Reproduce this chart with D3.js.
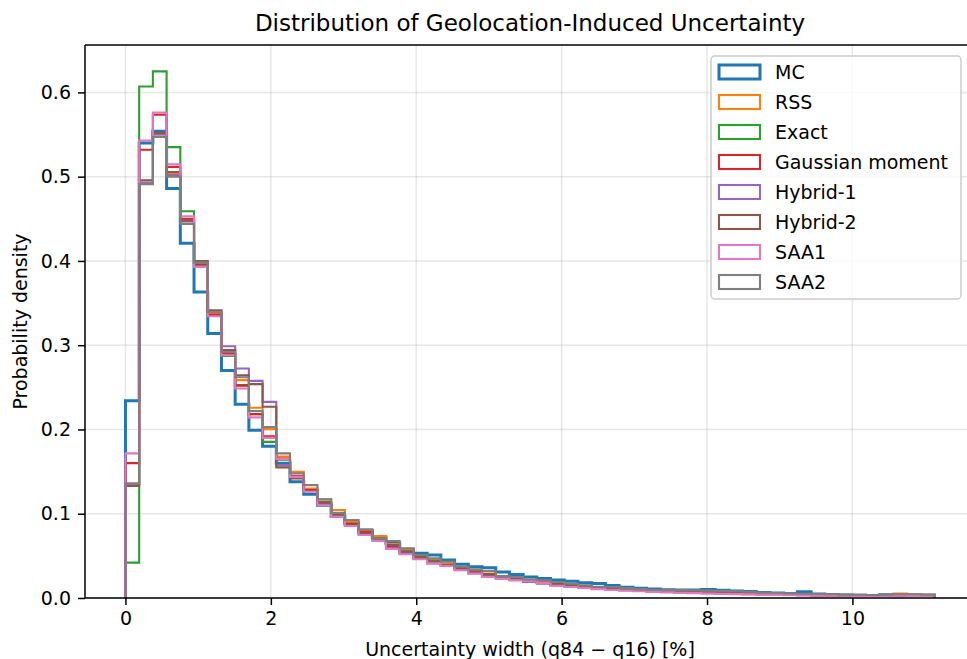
<!DOCTYPE html>
<html>
<head>
<meta charset="utf-8">
<script src="https://cdn.jsdelivr.net/npm/d3@7"></script>
<style>
  html, body { margin: 0; padding: 0; background: #fff; overflow: hidden; }
  svg { display: block; font-family: "DejaVu Sans", sans-serif; }
</style>
</head>
<body>
<svg id="chart" width="967" height="659"></svg>
<script>
// Histogram bins: 59 equal-width bins over [0, 11.13]
const binStart = 0;
const binEnd = 11.13;
const binCount = 59;

const seriesNames = ["MC", "RSS", "Exact", "Gaussian moment", "Hybrid-1", "Hybrid-2", "SAA1", "SAA2"];
const seriesColors = ["#1f77b4", "#ff7f0e", "#2ca02c", "#d62728", "#9467bd", "#8c564b", "#e377c2", "#7f7f7f"];

// Probability density per bin, one array per method
const mcDensity = [0.234, 0.540, 0.554, 0.486, 0.421, 0.363, 0.314, 0.270, 0.230, 0.199, 0.180, 0.160, 0.138, 0.123, 0.110,
  0.097, 0.089, 0.080, 0.072, 0.065, 0.058, 0.053, 0.051, 0.045, 0.040, 0.037, 0.036, 0.031, 0.028, 0.025,
  0.023, 0.0215, 0.020, 0.018, 0.0172, 0.0148, 0.0128, 0.0116, 0.0106, 0.0098, 0.0095, 0.0094, 0.0102, 0.0092, 0.0083,
  0.0076, 0.0066, 0.0060, 0.0052, 0.0074, 0.0046, 0.0041, 0.0037, 0.0030, 0.0031, 0.0040, 0.0042, 0.0036, 0.0034];
const rssDensity = [0.135, 0.492, 0.550, 0.503, 0.448, 0.397, 0.338, 0.293, 0.2585, 0.2257, 0.2004, 0.168, 0.1498, 0.130, 0.117,
  0.1044, 0.090, 0.080, 0.0735, 0.064, 0.0575, 0.050, 0.045, 0.041, 0.036, 0.032, 0.029, 0.026, 0.024, 0.021,
  0.019, 0.0175, 0.016, 0.0145, 0.013, 0.0125, 0.0112, 0.0100, 0.0092, 0.0088, 0.0085, 0.0080, 0.0076, 0.0070, 0.0066,
  0.0060, 0.0056, 0.0050, 0.0047, 0.0044, 0.0040, 0.0038, 0.0036, 0.0034, 0.0033, 0.0036, 0.0052, 0.0040, 0.0038];
const exactDensity = [0.042, 0.607, 0.625, 0.535, 0.459, 0.395, 0.335, 0.2873, 0.2526, 0.218, 0.1853, 0.164, 0.144, 0.128, 0.114,
  0.100, 0.088, 0.078, 0.070, 0.062, 0.055, 0.049, 0.044, 0.039, 0.035, 0.031, 0.028, 0.025, 0.023, 0.020,
  0.018, 0.0165, 0.015, 0.0135, 0.0122, 0.011, 0.010, 0.0092, 0.0085, 0.0080, 0.0076, 0.0070, 0.0066, 0.0062, 0.0058,
  0.0054, 0.0050, 0.0046, 0.0043, 0.0040, 0.0037, 0.0035, 0.0033, 0.0031, 0.0030, 0.0032, 0.0034, 0.0032, 0.0030];
const gaussDensity = [0.160, 0.532, 0.5735, 0.5115, 0.450, 0.396, 0.336, 0.290, 0.252, 0.2182, 0.192, 0.1656, 0.145, 0.128, 0.113,
  0.099, 0.088, 0.0786, 0.070, 0.061, 0.0522, 0.048, 0.043, 0.039, 0.035, 0.031, 0.028, 0.025, 0.022, 0.020,
  0.018, 0.016, 0.0148, 0.0132, 0.012, 0.0108, 0.0098, 0.0090, 0.0083, 0.0078, 0.0072, 0.0068, 0.0064, 0.0060, 0.0056,
  0.0052, 0.0048, 0.0044, 0.0040, 0.0036, 0.0030, 0.0026, 0.0024, 0.0024, 0.0026, 0.0030, 0.0032, 0.0030, 0.0028];
const hybrid1Density = [0.135, 0.493, 0.550, 0.502, 0.447, 0.398, 0.340, 0.2988, 0.2724, 0.2577, 0.2328, 0.1577, 0.143, 0.127, 0.112,
  0.098, 0.086, 0.076, 0.068, 0.059, 0.053, 0.047, 0.0411, 0.038, 0.034, 0.029, 0.026, 0.023, 0.021, 0.019,
  0.017, 0.015, 0.0135, 0.012, 0.011, 0.0100, 0.0092, 0.0085, 0.0078, 0.0072, 0.0067, 0.0062, 0.0058, 0.0054, 0.0050,
  0.0046, 0.0043, 0.0040, 0.0037, 0.0034, 0.0032, 0.0030, 0.0028, 0.0027, 0.0026, 0.0027, 0.0028, 0.0027, 0.0026];
const hybrid2Density = [0.133, 0.4957, 0.5518, 0.5055, 0.448, 0.400, 0.3415, 0.2941, 0.2644, 0.2538, 0.2269, 0.155, 0.142, 0.127, 0.113,
  0.099, 0.087, 0.077, 0.069, 0.0628, 0.055, 0.047, 0.043, 0.039, 0.035, 0.031, 0.028, 0.025, 0.023, 0.020,
  0.018, 0.016, 0.0148, 0.0133, 0.012, 0.0108, 0.0098, 0.0090, 0.0083, 0.0077, 0.0072, 0.0067, 0.0062, 0.0058, 0.0054,
  0.0050, 0.0046, 0.0043, 0.0040, 0.0037, 0.0034, 0.0032, 0.0030, 0.0029, 0.0028, 0.0030, 0.0031, 0.0030, 0.0029];
const saa1Density = [0.1716, 0.543, 0.576, 0.5146, 0.453, 0.393, 0.3344, 0.288, 0.2487, 0.2143, 0.190, 0.165, 0.1438, 0.126, 0.110,
  0.0964, 0.0854, 0.0747, 0.068, 0.0581, 0.052, 0.046, 0.0411, 0.038, 0.033, 0.029, 0.025, 0.023, 0.021, 0.020,
  0.018, 0.0146, 0.013, 0.0118, 0.0105, 0.0095, 0.0087, 0.0080, 0.0073, 0.0067, 0.0062, 0.0058, 0.0054, 0.0050, 0.0046,
  0.0043, 0.0040, 0.0037, 0.0034, 0.0031, 0.0029, 0.0027, 0.0026, 0.0025, 0.0024, 0.0025, 0.0026, 0.0025, 0.0024];
const saa2Density = [0.136, 0.491, 0.547, 0.500, 0.444, 0.398, 0.3395, 0.292, 0.262, 0.222, 0.203, 0.1716, 0.148, 0.134, 0.117,
  0.101, 0.0925, 0.0814, 0.0708, 0.0676, 0.0589, 0.051, 0.047, 0.043, 0.037, 0.034, 0.032, 0.026, 0.025, 0.022,
  0.021, 0.019, 0.017, 0.015, 0.0134, 0.0130, 0.0115, 0.0105, 0.0095, 0.0095, 0.0093, 0.0090, 0.0088, 0.0085, 0.0080,
  0.0075, 0.0065, 0.0060, 0.0055, 0.0050, 0.0047, 0.0045, 0.0040, 0.0040, 0.0035, 0.0040, 0.0045, 0.0045, 0.0040];

const xTicks = [0, 2, 4, 6, 8, 10];
const yTicks = [0.0, 0.1, 0.2, 0.3, 0.4, 0.5, 0.6];

const titleText = "Distribution of Geolocation-Induced Uncertainty";
const xLabelText = "Uncertainty width (q84 \u2212 q16) [%]";
const yLabelText = "Probability density";

// ---- layout (the right spine sits just past the canvas edge) ----
const plot = { left: 85, right: 975, top: 45, bottom: 598 };
const allSeries = [mcDensity, rssDensity, exactDensity, gaussDensity, hybrid1Density, hybrid2Density, saa1Density, saa2Density];

const binWidth = (binEnd - binStart) / binCount;
const edges = d3.range(binCount + 1).map(i => binStart + i * binWidth);

const xSpan = binEnd - binStart;
const x = d3.scaleLinear()
  .domain([binStart - 0.05 * xSpan, binEnd + 0.05 * xSpan])
  .range([plot.left, plot.right]);
const yMax = d3.max(allSeries, s => d3.max(s)) * 1.05;
const y = d3.scaleLinear().domain([0, yMax]).range([plot.bottom, plot.top]);

const svg = d3.select("#chart");
const fontSize = 19;

svg.append("defs").append("clipPath").attr("id", "plotClip")
  .append("rect")
  .attr("x", plot.left).attr("y", plot.top)
  .attr("width", plot.right - plot.left).attr("height", plot.bottom - plot.top);

// grid
const grid = svg.append("g").attr("stroke", "#b0b0b0").attr("stroke-opacity", 0.3).attr("stroke-width", 1.5);
grid.selectAll(".gx").data(xTicks).join("line")
  .attr("x1", d => x(d)).attr("x2", d => x(d))
  .attr("y1", plot.top).attr("y2", plot.bottom);
grid.selectAll(".gy").data(yTicks).join("line")
  .attr("x1", plot.left).attr("x2", plot.right)
  .attr("y1", d => y(d)).attr("y2", d => y(d));

// step outlines
const stepPath = vals => {
  const pts = [[edges[0], 0]];
  vals.forEach((v, i) => { pts.push([edges[i], v]); pts.push([edges[i + 1], v]); });
  pts.push([edges[binCount], 0]);
  return d3.line().x(p => x(p[0])).y(p => y(p[1]))(pts);
};

const marks = svg.append("g").attr("clip-path", "url(#plotClip)");
allSeries.forEach((vals, k) => {
  marks.append("path")
    .attr("d", stepPath(vals))
    .attr("fill", "none")
    .attr("stroke", seriesColors[k])
    .attr("stroke-width", k === 0 ? 3 : 2.1)
    .attr("stroke-linejoin", "miter");
});

// axes
const xAxis = d3.axisBottom(x).tickValues(xTicks).tickFormat(d3.format("d")).tickSize(7).tickPadding(7);
const yAxis = d3.axisLeft(y).tickValues(yTicks).tickFormat(d3.format(".1f")).tickSize(7).tickPadding(7);

const gx = svg.append("g").attr("transform", `translate(0,${plot.bottom})`).call(xAxis);
const gy = svg.append("g").attr("transform", `translate(${plot.left},0)`).call(yAxis);
[gx, gy].forEach(g => {
  g.select(".domain").remove();
  g.selectAll(".tick line").attr("stroke", "#000").attr("stroke-width", 1.5);
  g.selectAll(".tick text").attr("fill", "#000").attr("font-size", fontSize)
    .attr("font-family", "DejaVu Sans, sans-serif");
});

// spines
const spines = svg.append("g").attr("stroke", "#000").attr("stroke-width", 1.5).attr("fill", "none");
spines.append("line").attr("x1", plot.left).attr("x2", plot.left).attr("y1", plot.top).attr("y2", plot.bottom);
spines.append("line").attr("x1", plot.right).attr("x2", plot.right).attr("y1", plot.top).attr("y2", plot.bottom);
spines.append("line").attr("x1", plot.left).attr("x2", plot.right).attr("y1", plot.top).attr("y2", plot.top);
spines.append("line").attr("x1", plot.left).attr("x2", plot.right).attr("y1", plot.bottom).attr("y2", plot.bottom);

// labels
const cx = (plot.left + plot.right) / 2;
svg.append("text").attr("x", cx).attr("y", 31).attr("text-anchor", "middle")
  .attr("font-size", 23).text(titleText);
svg.append("text").attr("x", cx).attr("y", 656).attr("text-anchor", "middle")
  .attr("font-size", fontSize).text(xLabelText);
svg.append("text").attr("transform", `translate(27,${(plot.top + plot.bottom) / 2}) rotate(-90)`)
  .attr("text-anchor", "middle").attr("font-size", fontSize).text(yLabelText);

// legend
const lg = { x: 711, y: 56, w: 250, h: 243, row: 30 };
svg.append("rect").attr("x", lg.x).attr("y", lg.y).attr("width", lg.w).attr("height", lg.h)
  .attr("rx", 4).attr("fill", "#fff").attr("fill-opacity", 0.8)
  .attr("stroke", "#cccccc").attr("stroke-width", 1.5);
const items = svg.append("g").selectAll("g").data(seriesNames).join("g")
  .attr("transform", (d, i) => `translate(${lg.x + 8},${lg.y + 16 + i * lg.row})`);
items.append("rect").attr("x", 0).attr("y", -7).attr("width", 41).attr("height", 14)
  .attr("fill", "none").attr("stroke", (d, i) => seriesColors[i])
  .attr("stroke-width", (d, i) => i === 0 ? 3 : 2.1);
items.append("text").attr("x", 56).attr("y", 7).attr("font-size", fontSize).text(d => d);
</script>
</body>
</html>
